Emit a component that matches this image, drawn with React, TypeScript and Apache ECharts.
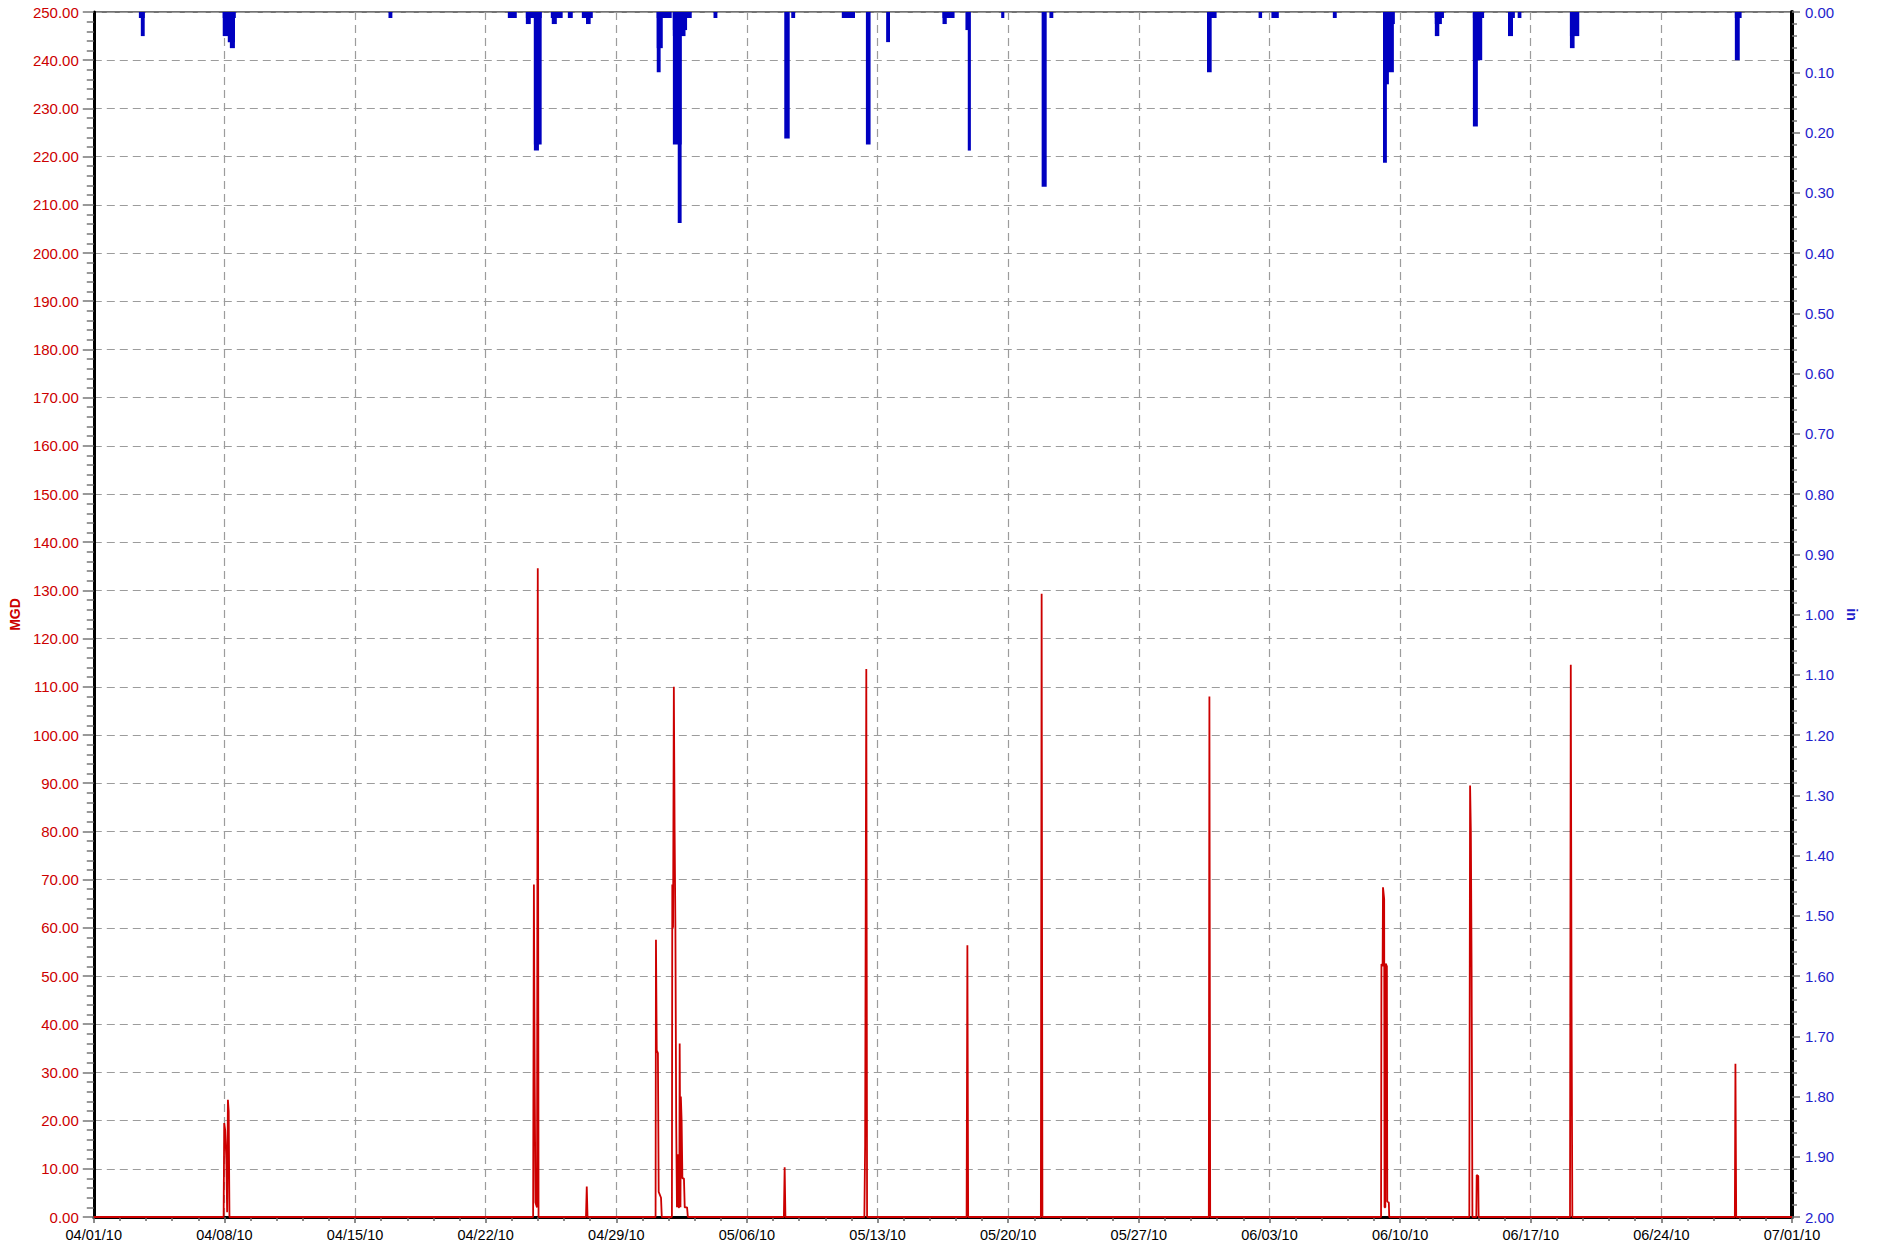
import React, { useEffect, useRef } from 'react';
import * as echarts from 'echarts';

// ---------- DATA ----------
const X_TICK_LABELS = [
  '04/01/10', '04/08/10', '04/15/10', '04/22/10', '04/29/10', '05/06/10', '05/13/10',
  '05/20/10', '05/27/10', '06/03/10', '06/10/10', '06/17/10', '06/24/10', '07/01/10',
];

// Rainfall intervals (inches): start, end, depth
const RAIN_START = [
  '2010-04-03 10:00', '2010-04-03 12:30',
  '2010-04-07 21:50', '2010-04-07 21:50', '2010-04-08 04:20', '2010-04-08 07:00',
  '2010-04-16 19:00',
  '2010-04-23 04:30',
  '2010-04-24 03:40', '2010-04-24 03:40', '2010-04-24 14:00', '2010-04-24 14:00',
  '2010-04-25 11:45', '2010-04-25 13:00',
  '2010-04-26 09:40',
  '2010-04-27 03:40', '2010-04-27 09:00',
  '2010-05-01 04:00', '2010-05-01 04:00', '2010-05-01 04:00',
  '2010-05-02 00:45', '2010-05-02 00:45', '2010-05-02 00:45', '2010-05-02 00:45', '2010-05-02 07:00',
  '2010-05-04 05:00',
  '2010-05-08 00:00', '2010-05-08 09:00',
  '2010-05-11 02:00',
  '2010-05-12 09:00',
  '2010-05-13 11:00',
  '2010-05-16 11:30', '2010-05-16 11:30',
  '2010-05-17 17:00', '2010-05-17 20:00',
  '2010-05-19 15:00',
  '2010-05-21 19:00', '2010-05-22 05:00',
  '2010-05-30 15:40', '2010-05-30 15:40',
  '2010-06-02 10:00',
  '2010-06-03 02:30',
  '2010-06-06 09:30',
  '2010-06-09 02:00', '2010-06-09 02:00', '2010-06-09 02:00', '2010-06-09 02:00',
  '2010-06-11 20:40', '2010-06-11 20:40', '2010-06-11 20:40',
  '2010-06-13 21:36', '2010-06-13 21:36', '2010-06-13 21:36',
  '2010-06-15 18:45', '2010-06-15 18:45',
  '2010-06-16 07:12',
  '2010-06-19 02:24', '2010-06-19 02:24',
  '2010-06-27 22:30', '2010-06-27 22:30',
];
const RAIN_END = [
  '2010-04-03 17:30', '2010-04-03 17:30',
  '2010-04-08 14:40', '2010-04-08 13:30', '2010-04-08 13:30', '2010-04-08 13:30',
  '2010-04-17 00:00',
  '2010-04-23 16:00',
  '2010-04-25 00:00', '2010-04-24 10:00', '2010-04-25 00:00', '2010-04-24 20:30',
  '2010-04-26 03:00', '2010-04-25 19:30',
  '2010-04-26 16:00',
  '2010-04-27 17:45', '2010-04-27 15:00',
  '2010-05-01 23:15', '2010-05-01 11:45', '2010-05-01 09:00',
  '2010-05-03 01:00', '2010-05-02 19:00', '2010-05-02 17:00', '2010-05-02 12:00', '2010-05-02 12:00',
  '2010-05-04 10:00',
  '2010-05-08 07:00', '2010-05-08 14:00',
  '2010-05-11 19:00',
  '2010-05-12 15:00',
  '2010-05-13 16:00',
  '2010-05-17 03:00', '2010-05-16 17:00',
  '2010-05-17 23:00', '2010-05-18 00:00',
  '2010-05-19 19:00',
  '2010-05-22 01:30', '2010-05-22 10:00',
  '2010-05-31 04:00', '2010-05-30 21:40',
  '2010-06-02 14:30',
  '2010-06-03 12:00',
  '2010-06-06 14:30',
  '2010-06-09 17:15', '2010-06-09 16:00', '2010-06-09 09:36', '2010-06-09 07:00',
  '2010-06-12 08:24', '2010-06-12 05:45', '2010-06-12 02:24',
  '2010-06-14 12:00', '2010-06-14 09:36', '2010-06-14 04:00',
  '2010-06-16 03:36', '2010-06-16 01:12',
  '2010-06-16 12:00',
  '2010-06-19 14:24', '2010-06-19 08:24',
  '2010-06-28 07:12', '2010-06-28 04:48',
];
const RAIN_IN = [
  0.01, 0.04,
  0.01, 0.04, 0.05, 0.06,
  0.01,
  0.01,
  0.01, 0.02, 0.22, 0.23,
  0.01, 0.02,
  0.01,
  0.01, 0.02,
  0.01, 0.06, 0.10,
  0.01, 0.03, 0.04, 0.22, 0.35,
  0.01,
  0.21, 0.01,
  0.01,
  0.22,
  0.05,
  0.01, 0.02,
  0.03, 0.23,
  0.01,
  0.29, 0.01,
  0.01, 0.10,
  0.01,
  0.01,
  0.01,
  0.02, 0.10, 0.12, 0.25,
  0.01, 0.02, 0.04,
  0.01, 0.08, 0.19,
  0.01, 0.04,
  0.01,
  0.04, 0.06,
  0.01, 0.08,
];

// Flow (MGD)
const FLOW_TIME = [
  '2010-04-01 00:00',
  '2010-04-07 23:00', '2010-04-07 23:45', '2010-04-08 01:00', '2010-04-08 02:30', '2010-04-08 03:30',
  '2010-04-08 04:30', '2010-04-08 05:30', '2010-04-08 06:30',
  '2010-04-24 13:00', '2010-04-24 14:00', '2010-04-24 15:00', '2010-04-24 16:00', '2010-04-24 18:00',
  '2010-04-24 19:00', '2010-04-24 20:00',
  '2010-04-27 09:00', '2010-04-27 10:00', '2010-04-27 11:00',
  '2010-05-01 02:30', '2010-05-01 03:00', '2010-05-01 04:00', '2010-05-01 05:30', '2010-05-01 06:30',
  '2010-05-01 09:30', '2010-05-01 10:30',
  '2010-05-01 23:30', '2010-05-02 00:00', '2010-05-02 01:00', '2010-05-02 02:00', '2010-05-02 03:00',
  '2010-05-02 04:00', '2010-05-02 05:00', '2010-05-02 06:00', '2010-05-02 07:00', '2010-05-02 08:00',
  '2010-05-02 09:00', '2010-05-02 09:30', '2010-05-02 10:30', '2010-05-02 11:00', '2010-05-02 12:00',
  '2010-05-02 13:00', '2010-05-02 15:00', '2010-05-02 16:00', '2010-05-02 19:00', '2010-05-02 20:00',
  '2010-05-07 23:30', '2010-05-08 00:30', '2010-05-08 01:30',
  '2010-05-12 07:00', '2010-05-12 08:00', '2010-05-12 09:30', '2010-05-12 10:30',
  '2010-05-17 18:30', '2010-05-17 19:30', '2010-05-17 20:30',
  '2010-05-21 18:00', '2010-05-21 19:00', '2010-05-21 20:00',
  '2010-05-30 18:00', '2010-05-30 18:45', '2010-05-30 19:45',
  '2010-06-08 23:30', '2010-06-09 00:00', '2010-06-09 01:30', '2010-06-09 02:00', '2010-06-09 03:30',
  '2010-06-09 04:00', '2010-06-09 05:00', '2010-06-09 05:30', '2010-06-09 07:00', '2010-06-09 07:30',
  '2010-06-09 09:30', '2010-06-09 10:00',
  '2010-06-13 17:00', '2010-06-13 18:00', '2010-06-13 19:00', '2010-06-13 20:00', '2010-06-13 21:00',
  '2010-06-14 02:00', '2010-06-14 02:30', '2010-06-14 04:30', '2010-06-14 05:00',
  '2010-06-19 02:30', '2010-06-19 03:30', '2010-06-19 04:30', '2010-06-19 05:30',
  '2010-06-27 22:30', '2010-06-27 23:15', '2010-06-28 00:15',
  '2010-07-01 00:00',
];
const FLOW_MGD = [
  0,
  0, 19.5, 18, 12, 1,
  24.3, 22, 0,
  0, 69, 30, 3, 2,
  134.6, 0,
  0, 6.3, 0,
  0, 57.5, 34.6, 34, 5.2,
  4, 0,
  0, 69, 60, 110, 80,
  60, 20, 2, 13, 2,
  2, 36, 2, 25, 20,
  8, 8, 2, 2, 0,
  0, 10.3, 0,
  0, 15, 113.7, 0,
  0, 56.4, 0,
  0, 129.3, 0,
  0, 108, 0,
  0, 52.5, 52, 68.4, 66,
  2, 2, 52.6, 52, 3.2,
  3, 0,
  0, 89.5, 80, 50, 0,
  0, 8.7, 8.5, 0,
  0, 114.6, 45, 0,
  0, 31.8, 0,
  0,
];

// ---------- HELPERS ----------
const START = Date.UTC(2010, 3, 1);
const DAY_MS = 86400000;
function toDay(s: string): number {
  const [d, t] = s.split(' ');
  const [y, m, dd] = d.split('-').map(Number);
  const [hh, mi] = (t || '00:00').split(':').map(Number);
  return (Date.UTC(y, m - 1, dd, hh, mi) - START) / DAY_MS;
}

const RED = '#cc0000';
const BLUE = '#0000c0';
const BLUE_TXT = '#1e1ecc';
const FONT = '"Liberation Sans", Arial, sans-serif';
const GRID_LINE = { show: true, lineStyle: { color: '#9c9c9c', width: 1.2, type: [8, 5] as any } };

export default function App() {
  const ref = useRef<HTMLDivElement>(null);
  useEffect(() => {
    if (!ref.current) return;
    const chart = echarts.init(ref.current, undefined, { renderer: 'svg' });
    const flowData = FLOW_TIME.map((t, i) => [toDay(t), FLOW_MGD[i]]);
    const rainData = RAIN_START.map((s, i) => [toDay(s), toDay(RAIN_END[i]), RAIN_IN[i]]);
    chart.setOption({
      animation: false,
      backgroundColor: '#ffffff',
      textStyle: { fontFamily: FONT },
      grid: {
        left: 93, right: 85, top: 12, bottom: 33,
        show: true, borderColor: '#444', borderWidth: 1.5, backgroundColor: 'transparent',
      },
      xAxis: {
        type: 'value', min: 0, max: 91, interval: 7,
        axisLine: { show: true, lineStyle: { color: '#000', width: 3 } },
        axisTick: { show: true, length: 6, lineStyle: { color: '#666', width: 1.5 } },
        minorTick: { show: true, splitNumber: 5, length: 4, lineStyle: { color: '#666', width: 1.5 } },
        splitLine: GRID_LINE,
        axisLabel: {
          color: '#000', fontSize: 14.5, fontFamily: FONT, margin: 10,
          formatter: (v: number) => X_TICK_LABELS[Math.round(v / 7)] ?? '',
        },
      },
      yAxis: [
        {
          type: 'value', min: 0, max: 250, interval: 10, position: 'left',
          name: 'MGD', nameLocation: 'middle', nameGap: 68,
          nameTextStyle: { color: RED, fontWeight: 'bold', fontSize: 14, fontFamily: FONT },
          axisLine: { show: true, lineStyle: { color: '#000', width: 3 } },
          axisTick: { show: true, length: 11, lineStyle: { color: '#777', width: 1.5 } },
          minorTick: { show: true, splitNumber: 5, length: 7, lineStyle: { color: '#777', width: 1.5 } },
          splitLine: GRID_LINE,
          axisLabel: {
            color: RED, fontSize: 15, fontFamily: FONT, margin: 15,
            formatter: (v: number) => v.toFixed(2),
          },
        },
        {
          type: 'value', min: 0, max: 2, interval: 0.1, position: 'right', inverse: true,
          name: 'in', nameLocation: 'middle', nameGap: 48, nameRotate: -90,
          nameTextStyle: { color: BLUE_TXT, fontWeight: 'bold', fontSize: 14, fontFamily: FONT },
          axisLine: { show: true, lineStyle: { color: '#000', width: 4 } },
          axisTick: { show: true, length: 8, lineStyle: { color: '#777', width: 1.5 } },
          minorTick: { show: true, splitNumber: 5, length: 5, lineStyle: { color: '#777', width: 1.5 } },
          splitLine: { show: false },
          axisLabel: {
            color: BLUE_TXT, fontSize: 15, fontFamily: FONT, margin: 13,
            formatter: (v: number) => v.toFixed(2),
          },
        },
      ],
      series: [
        {
          type: 'custom',
          name: 'Rain',
          xAxisIndex: 0,
          yAxisIndex: 1,
          encode: { x: [0, 1], y: 2 },
          data: rainData,
          z: 3,
          renderItem: (params: any, api: any) => {
            const p0 = api.coord([api.value(0), 0]);
            const p1 = api.coord([api.value(1), api.value(2)]);
            return {
              type: 'rect',
              shape: { x: p0[0], y: p0[1], width: Math.max(p1[0] - p0[0], 1), height: p1[1] - p0[1] },
              style: { fill: BLUE },
            };
          },
        },
        {
          type: 'line',
          name: 'Flow',
          xAxisIndex: 0,
          yAxisIndex: 0,
          data: flowData,
          showSymbol: false,
          symbol: 'none',
          z: 4,
          lineStyle: { color: RED, width: 1.8 },
          itemStyle: { color: RED },
        },
      ],
    });
    return () => chart.dispose();
  }, []);
  return (
    <div
      ref={ref}
      style={{ position: 'absolute', left: 0, top: 0, width: 1877, height: 1250, background: '#fff' }}
    />
  );
}
